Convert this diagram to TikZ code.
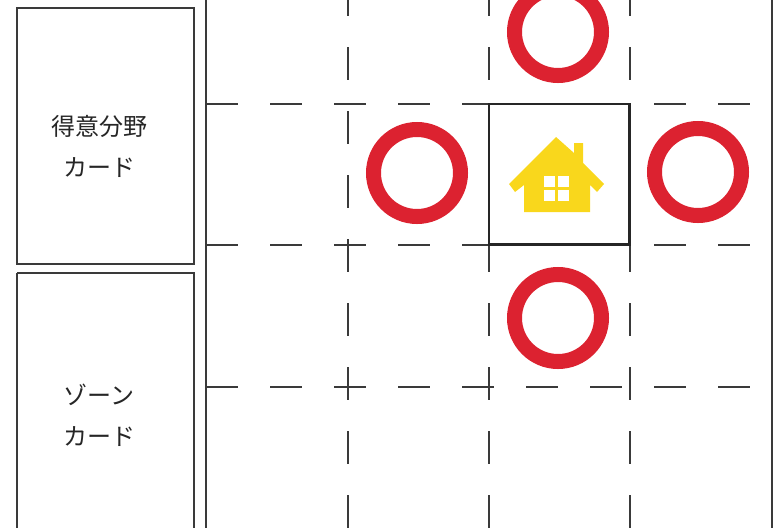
\documentclass[tikz,border=0pt]{standalone}
\usepackage{fontspec}
\newfontfamily\cjk{Noto Sans CJK JP}
\definecolor{ringred}{HTML}{DC2230}
\definecolor{houseyellow}{HTML}{F9D71C}
\definecolor{inkgrey}{HTML}{3A3A3A}
\definecolor{textink}{HTML}{262626}
\tikzset{
  cardbox/.style={draw=inkgrey,line width=1.1pt,fill=white},
  cardtext/.style={font=\cjk\fontsize{24}{24}\selectfont,text=textink,inner sep=0pt},
  gridv/.style={draw=inkgrey,line width=1.2pt,dash pattern=on 33pt off 31pt,dash phase=17pt},
  gridh/.style={draw=inkgrey,line width=1.2pt,dash pattern=on 32pt off 32pt},
  ring/.style={circle,draw=ringred,line width=15pt,minimum size=87pt,inner sep=0pt},
  homebox/.style={draw=black!85,line width=2.4pt}
}
\begin{document}
\begin{tikzpicture}[x=1pt,y=-1pt]
\useasboundingbox (0,0) rectangle (776,528);
% frame lines
\draw[inkgrey,line width=1.3pt] (206,0) -- (206,528);
\draw[inkgrey,line width=1.3pt] (772,0) -- (772,528);
% dashed grid
\foreach \x in {348,489,630} \draw[gridv] (\x,0) -- (\x,528);
\foreach \y in {104,245,387} \draw[gridh] (206,\y) -- (771,\y);
% cards
\draw[cardbox] (17,8) rectangle (194,264);
\draw[cardbox] (17,273) -- (194,273) -- (194,528) (17,273) -- (17,528);
\node[cardtext] (a1) at (99,126.5) {得意分野};
\node[cardtext] (a2) at (99,167.5) {カード};
\node[cardtext] (b1) at (99,394.5) {ゾーン};
\node[cardtext] (b2) at (99,436.5) {カード};
% highlighted cell
\draw[homebox] (489,104) rectangle (629.5,244.5);
% rings
\node[ring] (top) at (558,32) {};
\node[ring] (left) at (417,173) {};
\node[ring] (right) at (698,172) {};
\node[ring] (bottom) at (558,318) {};
% house
\fill[houseyellow] (556,137) -- (574,153) -- (574,143) -- (583,143) -- (583,163) -- (604,184) -- (597,192) -- (590,185) -- (590,212) -- (524,212) -- (524,185) -- (515,192) -- (509,184) -- cycle;
\fill[white] (544,176) rectangle (555,187);
\fill[white] (558,176) rectangle (569,187);
\fill[white] (544,190) rectangle (555,201);
\fill[white] (558,190) rectangle (569,201);
\end{tikzpicture}
\end{document}
